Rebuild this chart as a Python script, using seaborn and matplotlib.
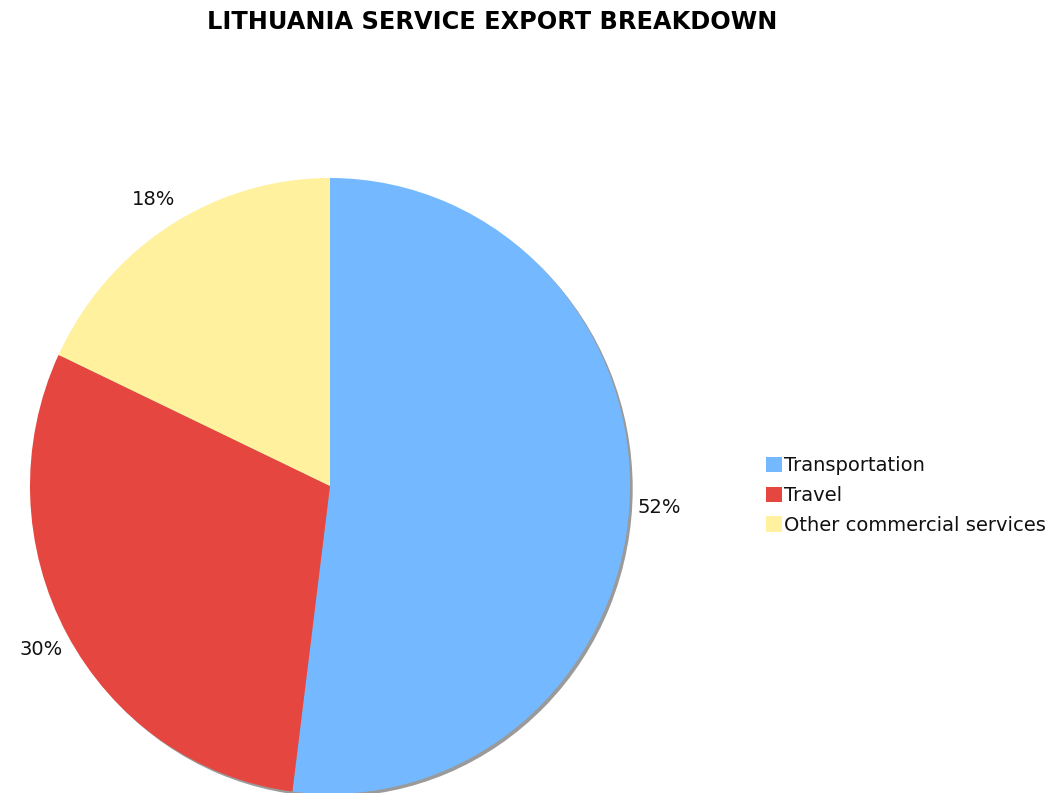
import matplotlib
matplotlib.use("Agg")
import matplotlib.pyplot as plt
import seaborn as sns

# Service export shares (%)
categories = ["Transportation", "Travel", "Other commercial services"]
shares = [52, 30, 18]
slice_colors = ["#74B9FF", "#E64640", "#FFF19E"]
title = "LITHUANIA SERVICE EXPORT BREAKDOWN"

sns.set_theme(style="white")
plt.rcParams["font.family"] = ["DejaVu Sans"]
plt.rcParams["text.color"] = "black"
palette = sns.color_palette(slice_colors)

W, H = 1052, 793
fig = plt.figure(figsize=(W / 100, H / 100), dpi=100)
fig.patch.set_facecolor("white")

# pie box: 600 px wide, slightly taller than wide
ax = fig.add_axes([30 / W, -1 / H, 600 / W, 616 / H])

# soft grey drop shadow under the pie
ax.pie([sum(shares)], colors=["#9a9a9a"], radius=1.0, center=(0.009, -0.009),
       startangle=90, wedgeprops=dict(linewidth=0))

wedges, texts, autotexts = ax.pie(
    shares,
    colors=palette,
    startangle=90,
    counterclock=False,
    autopct="%1.0f%%",
    pctdistance=1.1,
    wedgeprops=dict(linewidth=0),
    textprops=dict(fontsize=14, color="#111111"),
)
for t in autotexts:
    t.set_ha("center")
    t.set_va("center")

ax.set_aspect("auto")
ax.set_xlim(-1, 1)
ax.set_ylim(-1, 1)
ax.axis("off")

fig.suptitle(title, x=492 / W, y=1 - 22 / H, va="center",
             fontsize=17.3, fontweight="bold", color="black")

leg = fig.legend(
    wedges, categories,
    loc="upper left",
    bbox_to_anchor=(766 / W, 1 - 456 / H),
    frameon=False,
    fontsize=14,
    handlelength=0.82,
    handleheight=0.82,
    handletextpad=0.12,
    labelspacing=0.56,
    borderpad=0,
    borderaxespad=0,
)
for t in leg.get_texts():
    t.set_color("#111111")

fig.savefig("out.png", dpi=100, facecolor="white")
